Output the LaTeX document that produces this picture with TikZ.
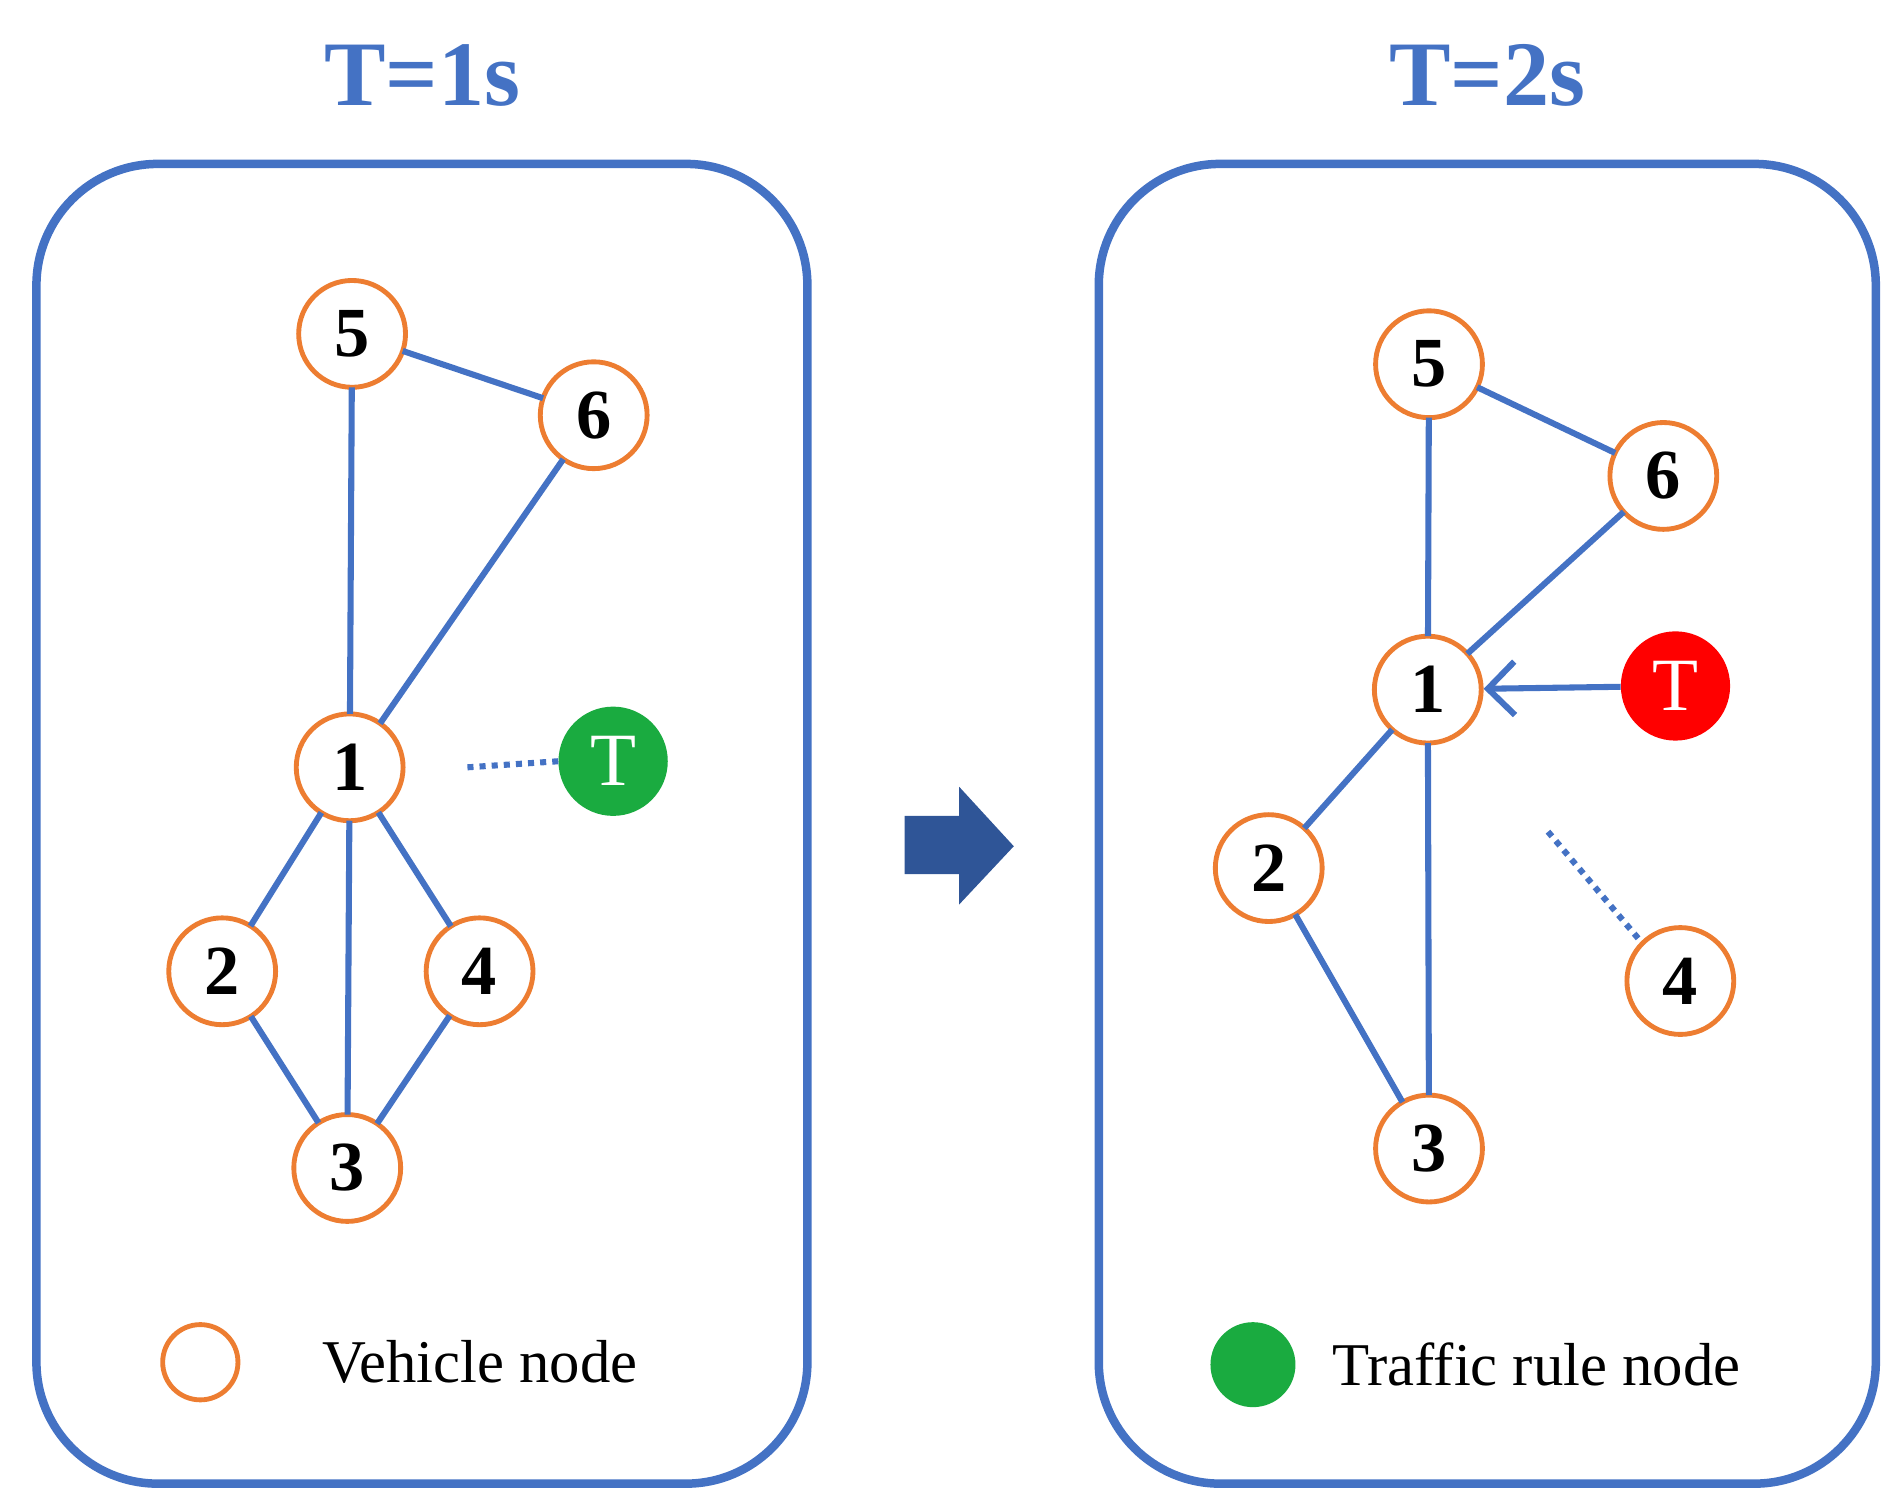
\documentclass[tikz,border=0pt]{standalone}
\usepackage{fontspec}
\setmainfont{Liberation Serif}
\usetikzlibrary{arrows.meta}
\definecolor{eb}{HTML}{4472C4}
\definecolor{nor}{HTML}{ED7D31}
\definecolor{gr}{HTML}{1AAB40}
\definecolor{db}{HTML}{2F5597}
\begin{document}
\begin{tikzpicture}[x=1pt,y=-1pt,
 v/.style={circle,draw=nor,line width=4pt,fill=white,minimum size=88pt,inner sep=0pt,font=\fontsize{58}{60}\selectfont\bfseries},
 t/.style={circle,minimum size=90pt,inner sep=0pt,text=white,font=\fontsize{62}{64}\selectfont},
 e/.style={draw=eb,line width=5pt},
 box/.style={draw=eb,line width=7pt,rounded corners=100pt},
 ttl/.style={text=eb,font=\fontsize{76}{78}\selectfont\bfseries}]
\useasboundingbox (0,0) rectangle (1560,1237);
\node[ttl] (t1) at (348,62) {T=1s};
\node[ttl] (t2) at (1225,62) {T=2s};
\draw[box] (30,135) rectangle (665,1222);
\draw[box] (905,135) rectangle (1545,1222);
% left
\node[v] (a5) at (290,275) {5};
\node[v] (a6) at (489,342) {6};
\node[v] (a1) at (288,632) {1};
\node[v] (a2) at (183,800) {2};
\node[v] (a4) at (395,800) {4};
\node[v] (a3) at (286,962) {3};
\node[t,fill=gr] (aT) at (505,627) {T};
\begin{scope}[on background layer/.style={}]
\end{scope}
\foreach \p/\q in {a5/a6,a5/a1,a6/a1,a1/a2,a1/a3,a1/a4,a2/a3,a4/a3}
  \draw[e,shorten >=-2pt,shorten <=-2pt] (\p) -- (\q);
\coordinate (ad) at (385,632);
\draw[eb,line width=5pt,dash pattern=on 5pt off 5pt] (ad) -- (aT.west);
% right
\node[v] (b5) at (1177,300) {5};
\node[v] (b6) at (1370,392) {6};
\node[v] (b1) at (1176,568) {1};
\node[v] (b2) at (1045,715) {2};
\node[v] (b3) at (1177,946) {3};
\node[v] (b4) at (1384,808) {4};
\node[t,fill=red] (bT) at (1380,565) {T};
\foreach \p/\q in {b5/b6,b5/b1,b6/b1,b1/b2,b1/b3,b2/b3}
  \draw[e,shorten >=-2pt,shorten <=-2pt] (\p) -- (\q);
\draw[e,-{Straight Barb[length=22pt,width=44pt,line width=5pt]}] (bT) -- (b1);
\coordinate (bd) at (1275,685);
\draw[eb,line width=5pt,dash pattern=on 5pt off 5pt] (bd) -- (b4.north west);
% arrow
\fill[db] (745,672) -- (790,672) -- (790,648) -- (835,697) -- (790,745) -- (790,720) -- (745,720) -- cycle;
% legend
\node[circle,draw=nor,line width=4pt,minimum size=62pt] (lv) at (165,1122) {};
\node[anchor=west,font=\fontsize{50}{52}\selectfont] (lvt) at (262,1122) {Vehicle node};
\node[circle,fill=gr,minimum size=70pt] (lt) at (1032,1124) {};
\node[anchor=west,font=\fontsize{50}{52}\selectfont] (ltt) at (1094,1124) {Traffic rule node};
\end{tikzpicture}
\end{document}
